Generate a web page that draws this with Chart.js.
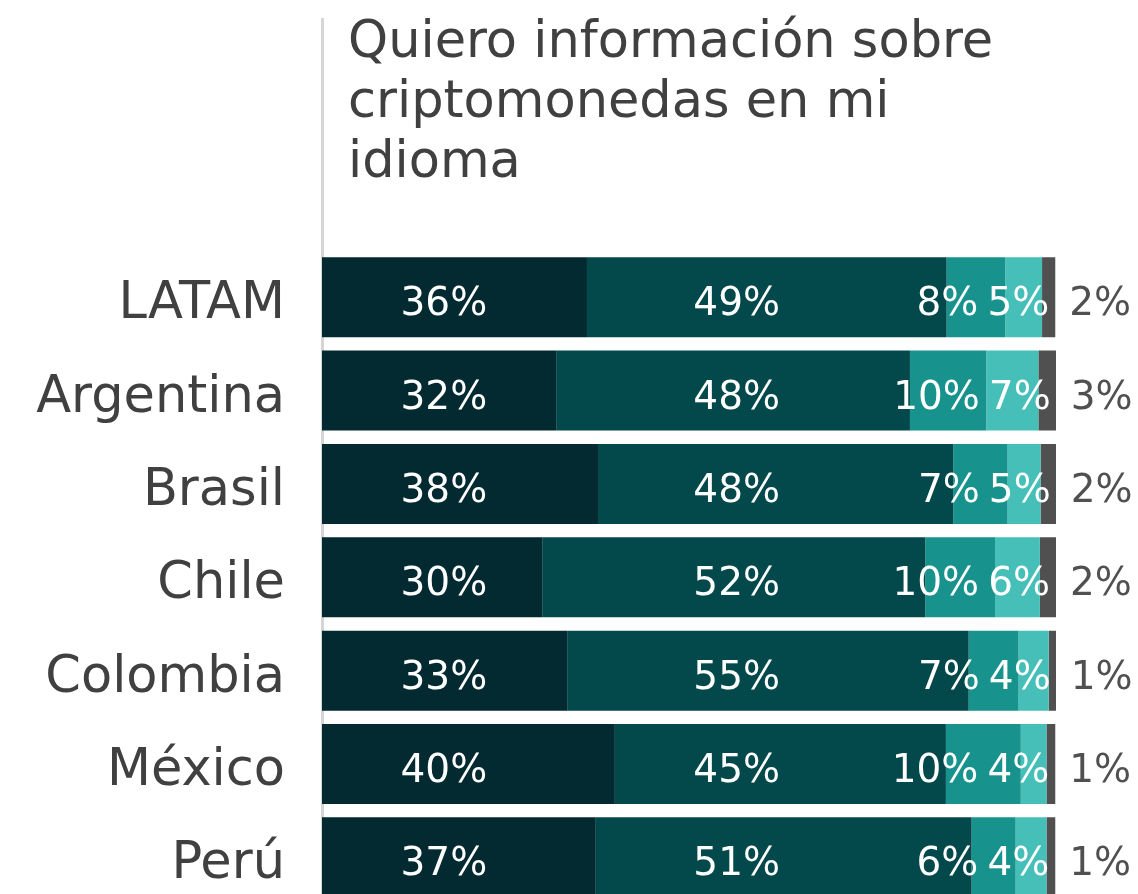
<!DOCTYPE html>
<html lang="es">
<head>
<meta charset="utf-8">
<title>Quiero información sobre criptomonedas en mi idioma</title>
<script src="https://cdn.jsdelivr.net/npm/chart.js@4.4.1/dist/chart.umd.min.js"></script>
<style>
    html, body { margin: 0; padding: 0; background: #ffffff; overflow: hidden; }
    #wrap { width: 1138px; height: 904px; }
</style>
</head>
<body>
<div id="wrap"><canvas id="chart" width="1138" height="904"></canvas></div>
<script>
// --- Data ---
const titleLines = ['Quiero información sobre', 'criptomonedas en mi', 'idioma'];
const categories = ['LATAM', 'Argentina', 'Brasil', 'Chile', 'Colombia', 'México', 'Perú'];
const serie1 = [36.1, 31.9, 37.6, 30.0, 33.4, 39.9, 37.3];
const serie2 = [49.0, 48.2, 48.4, 52.2, 54.7, 45.1, 51.2];
const serie3 = [8.0, 10.4, 7.4, 9.5, 6.8, 10.2, 6.0];
const serie4 = [5.0, 7.1, 4.5, 6.1, 4.1, 3.5, 4.2];
const serie5 = [1.8, 2.5, 2.2, 2.2, 1.1, 1.2, 1.2];
const colors = ['#022a30', '#03494b', '#17928c', '#45bfb7', '#505050'];

const FONT = "'DejaVu Sans', sans-serif";
const textGrey = '#404040';

// --- Title, axis line and category names (behind the bars) ---
const backdrop = {
    id: 'backdrop',
    beforeDatasetsDraw(chart) {
        const { ctx, chartArea, scales } = chart;
        const x0 = scales.x.getPixelForValue(0);
        ctx.save();
        ctx.strokeStyle = '#d6d6d6';
        ctx.lineWidth = 3;
        ctx.beginPath();
        ctx.moveTo(x0 + 0.5, 18);
        ctx.lineTo(x0 + 0.5, chart.height);
        ctx.stroke();

        ctx.fillStyle = textGrey;
        ctx.font = '51px ' + FONT;
        ctx.textAlign = 'left';
        ctx.textBaseline = 'alphabetic';
        titleLines.forEach((line, i) => {
            ctx.fillText(line, chartArea.left + 26, 57 + i * 60);
        });

        // category names, right aligned left of the axis
        ctx.textAlign = 'right';
        categories.forEach((c, j) => {
            ctx.fillText(c, x0 - 37, scales.y.getPixelForValue(j) + 21);
        });
        ctx.restore();
    }
};

// --- Value labels ---
const valueLabels = {
    id: 'valueLabels',
    afterDatasetsDraw(chart) {
        const { ctx, scales } = chart;
        const fmt = v => Math.round(v) + '%';
        ctx.save();
        ctx.font = '39px ' + FONT;
        ctx.textBaseline = 'alphabetic';
        categories.forEach((c, j) => {
            const y = chart.getDatasetMeta(0).data[j].y + 18;
            const barEnd = chart.getDatasetMeta(4).data[j].x;
            const vals = chart.data.datasets.map(ds => ds.data[j]);

            ctx.fillStyle = '#ffffff';
            ctx.textAlign = 'center';
            ctx.fillText(fmt(vals[0]), scales.x.getPixelForValue(16.6), y);
            ctx.fillText(fmt(vals[1]), scales.x.getPixelForValue(56.5), y);

            ctx.textAlign = 'right';
            const t4 = fmt(vals[3]);
            const r4 = barEnd - 6;
            ctx.fillText(t4, r4, y);
            const l4 = r4 - ctx.measureText(t4).width;
            ctx.fillText(fmt(vals[2]), l4 - 9, y);

            ctx.fillStyle = '#505050';
            ctx.textAlign = 'left';
            ctx.fillText(fmt(vals[4]), barEnd + 14, y);
        });
        ctx.restore();
    }
};

const series = [serie1, serie2, serie3, serie4, serie5];

new Chart(document.getElementById('chart'), {
    type: 'bar',
    data: {
        labels: categories,
        datasets: series.map((s, i) => ({
            data: s,
            backgroundColor: colors[i],
            borderWidth: 0,
            barPercentage: 0.857,
            categoryPercentage: 1
        }))
    },
    options: {
        indexAxis: 'y',
        responsive: false,
        animation: false,
        layout: { padding: { top: 250.6, right: 82, bottom: 0, left: 0 } },
        plugins: {
            legend: { display: false },
            tooltip: { enabled: false }
        },
        scales: {
            x: {
                stacked: true,
                display: false,
                min: 0,
                max: 100
            },
            y: {
                stacked: true,
                afterFit: scale => {
                    scale.width = 322;
                    scale.paddingTop = 0;
                    scale.paddingBottom = 0;
                },
                grid: { display: false, drawTicks: false },
                border: { display: false },
                ticks: { display: false }
            }
        }
    },
    plugins: [backdrop, valueLabels]
});
</script>
</body>
</html>
